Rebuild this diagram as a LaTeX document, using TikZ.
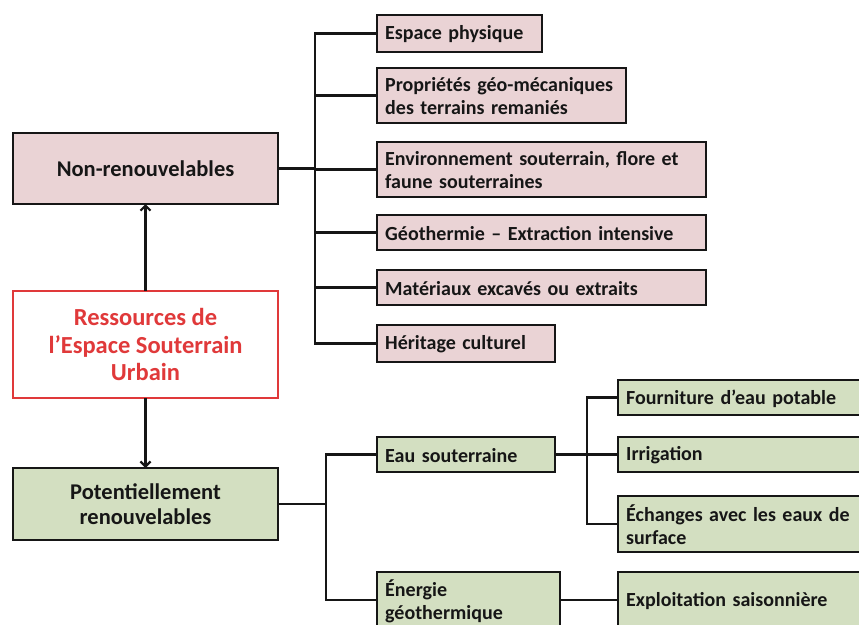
\documentclass[tikz,border=0pt]{standalone}
\usepackage{fontspec}
\setmainfont{Carlito}
\usetikzlibrary{arrows.meta}
\definecolor{pinkf}{HTML}{EAD3D5}
\definecolor{greenf}{HTML}{D3DFC1}
\definecolor{redc}{HTML}{E0393A}
\definecolor{ink}{HTML}{161616}
\newcommand{\lblfont}{\fontsize{20}{23}\selectfont\bfseries\spaceskip=6.5pt plus 2pt minus 1pt\relax}
\tikzset{
  x=1pt,y=-1pt,
  base/.style={draw=ink,line width=2.6pt,anchor=north west,inner sep=0pt,outer sep=0pt,text=ink},
  bigbox/.style={base,align=center,font=\fontsize{22.5}{25}\selectfont\bfseries},
  pinkbox/.style={fill=pinkf},
  greenbox/.style={fill=greenf},
  link/.style={line width=2.6pt,draw=ink},
  arr/.style={link,-{Straight Barb[length=5pt,width=10pt,line width=2.2pt]}},
  label/.style={anchor=west,align=left,inner sep=0pt,text=ink,font=\lblfont},
}
\newcommand{\mybox}[7]{% name, x, y, w, h, style, text
  \node[#6,minimum width=#4,minimum height=#5] (#1) at (#2,#3) {};
  \node[label] at ([xshift=8pt,yshift=-1pt]#1.west) {#7};
}
\begin{document}
\begin{tikzpicture}
\useasboundingbox (0,0) rectangle (859,624);
\begin{scope}
\clip (0,0) rectangle (859,624);
% left column
\node[bigbox,pinkbox,minimum width=265,minimum height=71] (nr) at (13,133) {Non-renouvelables};
\node[bigbox,draw=redc,text=redc,fill=white,minimum width=265,minimum height=107,font=\fontsize{24.5}{27.5}\selectfont\bfseries] (res) at (13,291) {Ressources de\\l’Espace Souterrain\\Urbain};
\node[bigbox,greenbox,minimum width=265,minimum height=72] (pr) at (13,468) {Potentiellement\\renouvelables};
\draw[arr] (res.north) -- (nr.south);
\draw[arr] (res.south) -- (pr.north);

% non-renewable items
\mybox{a1}{377}{15}{165}{37}{base,pinkbox}{Espace physique}
\mybox{a2}{377}{68}{249}{55}{base,pinkbox}{Propriétés géo-mécaniques\\des terrains remaniés}
\mybox{a3}{377}{142}{329}{55}{base,pinkbox}{Environnement souterrain, flore et\\faune souterraines}
\mybox{a4}{377}{215}{329}{35}{base,pinkbox}{Géothermie – Extraction intensive}
\mybox{a5}{377}{270}{329}{35}{base,pinkbox}{Matériaux excavés ou extraits}
\mybox{a6}{377}{325}{178}{37}{base,pinkbox}{Héritage culturel}

\coordinate (t1) at (315,0);
\draw[link] (nr.east) -- (nr.east -| t1);
\draw[link] (a1.west) -- (a1.west -| t1) -- (a6.west -| t1) -- (a6.west);
\foreach \n in {a2,a3,a4,a5} \draw[link] (\n.west) -- (\n.west -| t1);

% renewable items
\mybox{b1}{377}{437}{178}{35}{base,greenbox}{Eau souterraine}
\mybox{b2}{377}{572}{183}{56}{base,greenbox}{Énergie\\géothermique}
\coordinate (t2) at (326,0);
\draw[link] (pr.east) -- (pr.east -| t2);
\draw[link] (b1.west) -- (b1.west -| t2) -- (b2.west -| t2) -- (b2.west);

\mybox{c1}{618}{380}{245}{35}{base,greenbox}{Fourniture d’eau potable}
\mybox{c2}{618}{437}{245}{35}{base,greenbox}{Irrigation}
\mybox{c3}{618}{496}{245}{56}{base,greenbox}{Échanges avec les eaux de\\surface}
\mybox{c4}{618}{572}{245}{56}{base,greenbox}{Exploitation saisonnière}
\coordinate (t3) at (587,0);
\draw[link] (b1.east) -- (c2.west);
\draw[link] (c1.west) -- (c1.west -| t3) -- (c3.west -| t3) -- (c3.west);
\draw[link] (b2.east) -- (c4.west);
\end{scope}
\end{tikzpicture}
\end{document}
